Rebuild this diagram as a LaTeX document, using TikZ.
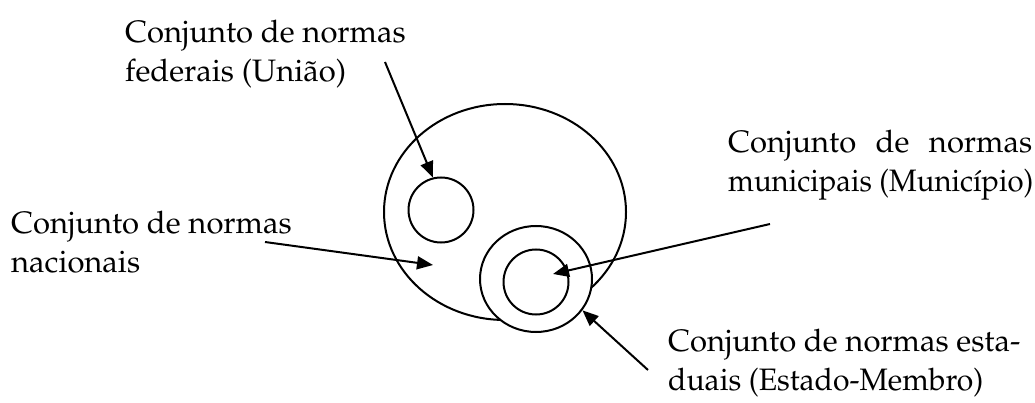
\documentclass[tikz,border=0pt]{standalone}
\usepackage[T1]{fontenc}
\usepackage{mathpazo}
\usepackage{graphicx}
\usetikzlibrary{arrows.meta,shapes.geometric}

\begin{document}
\begin{tikzpicture}[x=1pt,y=-1pt,
    conj/.style={draw,line width=2pt,inner sep=0pt},
    lbl/.style={align=left,inner sep=0pt,font=\fontsize{31}{39}\selectfont},
    seta/.style={line width=2pt,-{Triangle[length=16pt,width=13pt]}}]
  \useasboundingbox (0,0) rectangle (1035,403);
  % Conjuntos
  \node[conj,ellipse,minimum width=242pt,minimum height=216pt] (nacional) at (505,212) {};
  \node[conj,circle,minimum size=65pt] (uniao) at (441,210) {};
  \node[conj,ellipse,fill=white,minimum width=112pt,minimum height=106pt] (estado) at (536,279) {};
  \node[conj,circle,minimum size=65pt] (municipio) at (536,282) {};
  % Legendas (base = ultima linha)
  \node[lbl,anchor=base west] (t-federal) at (125,82) {Conjunto de normas\\federais (Uni\~ao)};
  \node[lbl,anchor=base west] (t-nacional) at (11,272) {Conjunto de normas\\nacionais};
  \node[lbl,anchor=base west] (t-municipal) at (728,192)
    {\hbox to 304pt{Conjunto\hfill de\hfill normas}\\\scalebox{0.945}[1]{municipais (Munic\'{\i}pio)}};
  \node[lbl,anchor=base west] (t-estadual) at (668,390)
    {Conjunto de normas esta-\\\scalebox{0.97}[1]{duais (Estado-Membro)}};
  % Setas
  \coordinate (f0) at (385,62);
  \coordinate (n0) at (265,242);
  \coordinate (n1) at (433,265);
  \coordinate (m0) at (770,224);
  \coordinate (m1) at (553,274);
  \coordinate (e0) at (648,370);
  \draw[seta] (f0) -- (uniao.104);
  \draw[seta] (n0) -- (n1);
  \draw[seta] (m0) -- (m1);
  \draw[seta] (e0) -- (estado.-34);
\end{tikzpicture}
\end{document}
